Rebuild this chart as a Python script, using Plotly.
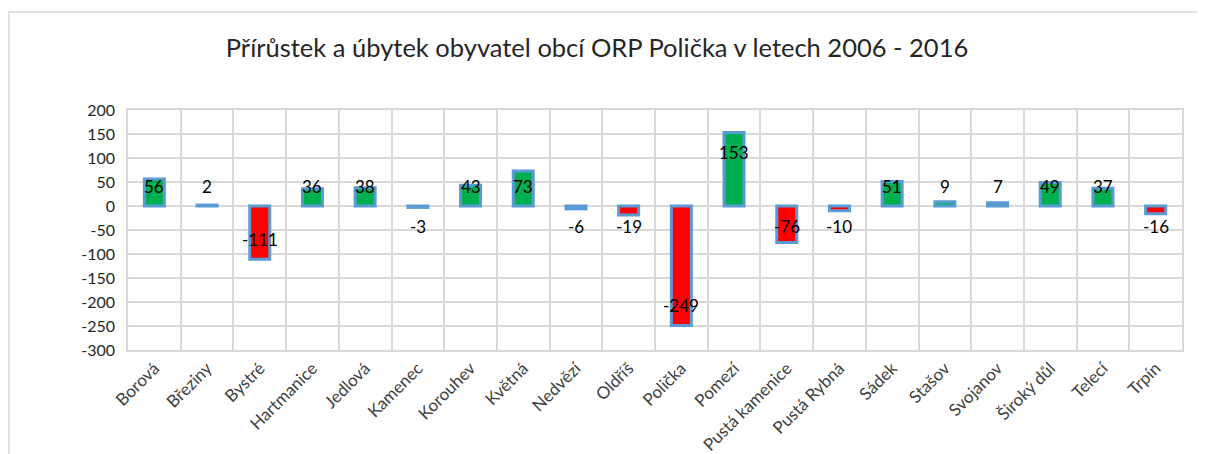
import plotly.graph_objects as go

categories = ["Borová", "Březiny", "Bystré", "Hartmanice", "Jedlová", "Kamenec", "Korouhev",
              "Květná", "Nedvězí", "Oldříš", "Polička", "Pomezí", "Pustá kamenice",
              "Pustá Rybná", "Sádek", "Stašov", "Svojanov", "Široký důl", "Telecí", "Trpín"]
values = [56, 2, -111, 36, 38, -3, 43, 73, -6, -19, -249, 153, -76, -10, 51, 9, 7, 49, 37, -16]
y_ticks = [200, 150, 100, 50, 0, -50, -100, -150, -200, -250, -300]

GREEN = "#00B050"
RED = "#FF0000"
OUTLINE = "#5B9BD5"
GRID = "#D9D9D9"
FONT = "Lato, Carlito, Calibri, sans-serif"

# page body adds an 8px offset; figure is sized to compensate
OFF = 8
W, H = 1205 - OFF, 454 - OFF
L, T, R, B = 128 - OFF, 110 - OFF, 1182 - OFF, 350 - OFF
PW, PH = R - L, B - T

colors = [GREEN if v >= 0 else RED for v in values]

fig = go.Figure()
fig.add_trace(go.Bar(
    x=categories, y=values,
    marker=dict(color=colors, line=dict(color=OUTLINE, width=3)),
    width=0.38,
    hoverinfo="x+y",
))

# data labels: ~20px inside the bar end, but at least ~20px away from zero
px_per_unit = PH / 500
annotations = []
for c, v in zip(categories, values):
    s = 1 if v >= 0 else -1
    if abs(v) * px_per_unit > 40:
        y, shift = v, -20 * s
    else:
        y, shift = 0, 20 * s
    annotations.append(dict(x=c, y=y, yshift=shift, text=str(v), showarrow=False,
                            font=dict(family=FONT, size=17, color="#000000"),
                            xanchor="center", yanchor="middle"))

fig.update_layout(
    width=W, height=H,
    margin=dict(l=L, r=W - R, t=T, b=H - B, autoexpand=False),
    paper_bgcolor="white", plot_bgcolor="white",
    showlegend=False,
    title=dict(text="Přírůstek a úbytek obyvatel obcí ORP Polička v letech 2006 - 2016",
               x=(597 - OFF) / W, xanchor="center", y=1 - (48 - OFF) / H, yanchor="middle",
               font=dict(family=FONT, size=25.5, color="#262626")),
    annotations=annotations,
    shapes=[dict(type="rect", xref="paper", yref="paper",
                 x0=(1 - L) / PW, x1=(1215 - L) / PW,
                 y0=(B - 470) / PH, y1=(B - (12 - OFF)) / PH,
                 line=dict(color="#D9D9D9", width=1.5), fillcolor="rgba(0,0,0,0)",
                 layer="below")],
)
fig.update_xaxes(
    type="category", tickson="boundaries", showgrid=True, gridcolor=GRID, gridwidth=1.5,
    showline=True, linecolor=GRID, linewidth=1.5, mirror=True,
    ticks="", tickangle=-45, automargin=False,
    tickfont=dict(family=FONT, size=17, color="#404040"),
)
fig.update_yaxes(
    range=[-300, 200], tickvals=y_ticks, ticktext=[str(t) for t in y_ticks],
    showgrid=True, gridcolor=GRID, gridwidth=1.5,
    showline=True, linecolor=GRID, linewidth=1.5, mirror=True,
    zeroline=True, zerolinecolor=GRID, zerolinewidth=1.5,
    ticks="", ticklabelstandoff=8, automargin=False,
    tickfont=dict(family=FONT, size=16, color="#262626"),
)

fig.write_html("out.html")
